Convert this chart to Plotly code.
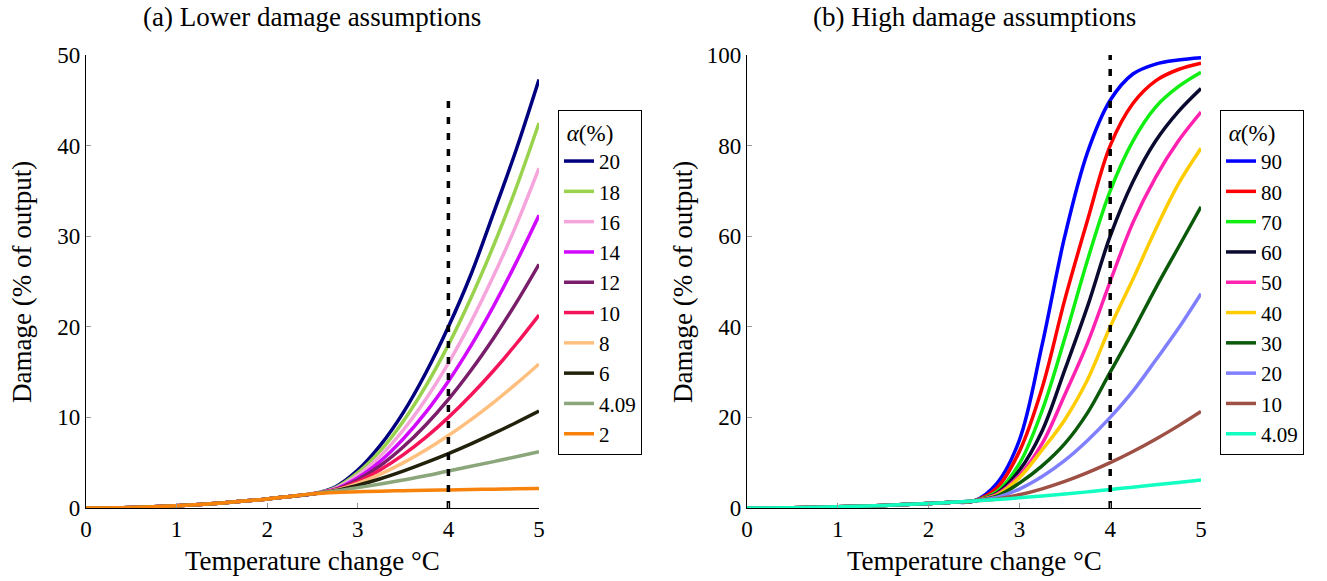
import plotly.graph_objects as go

W, H = 1327, 581

T = [0, 0.5, 1, 1.5, 2, 2.25, 2.5, 2.75, 3, 3.25, 3.5, 3.75, 4, 4.25, 4.5, 4.75, 5]
base = [0, 0.06, 0.25, 0.56, 1.0, 1.27, 1.56]

# (a) lower damage assumptions
a20 = base + [2.32, 4.18, 6.94, 10.5, 14.9, 20, 25.8, 32.6, 39.6, 47.3]
a18 = base + [2.23, 3.90, 6.33, 9.55, 13.45, 18, 23.2, 29.0, 35.4, 42.5]
a16 = base + [2.15, 3.61, 5.75, 8.58, 12.0, 16, 20.55, 25.65, 31.25, 37.5]
a14 = base + [2.07, 3.33, 5.17, 7.61, 10.55, 14, 17.92, 22.31, 27.14, 32.3]
a12 = base + [2.03, 3.12, 4.69, 6.73, 9.17, 12, 15.21, 18.77, 22.67, 26.9]
a10 = base + [1.99, 2.92, 4.23, 5.86, 7.79, 10, 12.47, 15.18, 18.13, 21.3]
a8 = base + [1.95, 2.72, 3.74, 4.98, 6.4, 8, 9.76, 11.67, 13.72, 15.9]
a6 = base + [1.91, 2.51, 3.23, 4.07, 5.0, 6, 7.08, 8.23, 9.44, 10.7]
a409 = base + [1.88, 2.25, 2.65, 3.09, 3.56, 4.09, 4.6, 5.12, 5.65, 6.2]
a2 = base + [1.72, 1.79, 1.86, 1.91, 1.96, 2.0, 2.04, 2.08, 2.12, 2.15]

# (b) high damage assumptions
b90 = base + [5.4, 15, 36, 60, 78.5, 90, 95.8, 98.0, 98.9, 99.4]
b80 = base + [4.4, 12.5, 26.5, 46, 63.5, 80, 89.3, 94.3, 96.8, 98.2]
b70 = base + [3.6, 9.8, 21.5, 37.5, 54.7, 70, 81, 88.5, 93, 96.2]
b60 = base + [3.2, 8.3, 17, 30.5, 44.5, 60, 72, 81, 87.5, 92.6]
b50 = base + [3.0, 7.2, 14.2, 25, 36.4, 50, 63, 73, 81, 87.4]
b40 = base + [2.8, 6.7, 12.8, 19.5, 28.3, 40, 50.5, 61.5, 71.5, 79.4]
b30 = base + [2.6, 5.5, 9.3, 14.2, 21, 30, 39, 48.5, 57.5, 66.5]
b20 = a20
b10 = a10
b409 = a409

left_labels = ["20", "18", "16", "14", "12", "10", "8", "6", "4.09", "2"]
left_series = [a20, a18, a16, a14, a12, a10, a8, a6, a409, a2]
left_colors = ["#00007f", "#99d24c", "#f5a5dc", "#d20aff", "#7a1e6c", "#f5145a",
               "#ffc07f", "#22220c", "#8aa67a", "#f7820c"]

right_labels = ["90", "80", "70", "60", "50", "40", "30", "20", "10", "4.09"]
right_series = [b90, b80, b70, b60, b50, b40, b30, b20, b10, b409]
right_colors = ["#0000ff", "#ff0000", "#11ee11", "#0a0a30", "#ff22b0", "#ffcc00",
                "#0a5a0a", "#8080ff", "#9e5045", "#11ffc0"]

vline_x = [4, 4]
vline_left = [0, 45]
vline_right = [0, 100]

FONT = "Liberation Serif, DejaVu Serif, serif"
TXT = 27
TICK = 23
LEG = 21

fig = go.Figure()

for lab, ys, col in zip(left_labels, left_series, left_colors):
    fig.add_trace(go.Scatter(x=T, y=ys, mode="lines", name=lab,
                             line=dict(color=col, width=3.5, shape="spline", smoothing=1.0),
                             xaxis="x", yaxis="y", legend="legend"))
fig.add_trace(go.Scatter(x=vline_x, y=vline_left, mode="lines", showlegend=False,
                         line=dict(color="black", width=3.5, dash="7px,9px"),
                         xaxis="x", yaxis="y"))

for lab, ys, col in zip(right_labels, right_series, right_colors):
    fig.add_trace(go.Scatter(x=T, y=ys, mode="lines", name=lab,
                             line=dict(color=col, width=3.5, shape="spline", smoothing=1.0),
                             xaxis="x2", yaxis="y2", legend="legend2"))
fig.add_trace(go.Scatter(x=vline_x, y=vline_right, mode="lines", showlegend=False,
                         line=dict(color="black", width=3.5, dash="7px,9px"),
                         xaxis="x2", yaxis="y2"))

def px(x):
    return x / W

def py(y):
    return (H - y) / H

axis_common = dict(showline=True, linecolor="black", linewidth=1.3, mirror=False,
                   ticks="inside", ticklen=5, tickcolor="#999999", tickwidth=1,
                   showgrid=False, zeroline=False, automargin=False,
                   tickfont=dict(family=FONT, size=TICK, color="black"))

legend_common = dict(xanchor="left", yanchor="top",
                     bordercolor="black", borderwidth=1, bgcolor="white",
                     title=dict(text=" <i>α</i>(%)", font=dict(family=FONT, size=LEG + 2)),
                     font=dict(family=FONT, size=LEG), itemwidth=30)

def label(text, x, y, angle=0):
    return dict(text=text, x=px(x), y=py(y), xref="paper", yref="paper",
                showarrow=False, textangle=angle, font=dict(family=FONT, size=TXT),
                xanchor="center", yanchor="middle")

fig.update_layout(
    width=W, height=H,
    margin=dict(l=0, r=0, t=0, b=0, pad=0, autoexpand=False),
    paper_bgcolor="white", plot_bgcolor="white",
    font=dict(family=FONT, size=20, color="black"),
    xaxis=dict(domain=[px(86), px(539)], range=[0, 5], tickvals=[0, 1, 2, 3, 4, 5],
               anchor="y", **axis_common),
    yaxis=dict(domain=[py(508), py(55)], range=[0, 50], tickvals=[0, 10, 20, 30, 40, 50],
               anchor="x", **axis_common),
    xaxis2=dict(domain=[px(747), px(1201)], range=[0, 5], tickvals=[0, 1, 2, 3, 4, 5],
                anchor="y2", **axis_common),
    yaxis2=dict(domain=[py(508), py(55)], range=[0, 100], tickvals=[0, 20, 40, 60, 80, 100],
                anchor="x2", **axis_common),
    legend=dict(x=px(558), y=py(110), **legend_common),
    legend2=dict(x=px(1220), y=py(110), **legend_common),
    annotations=[
        label("(a) Lower damage assumptions", 312, 17),
        label("(b) High damage assumptions", 974, 17),
        label("Temperature change °C", 312, 561),
        label("Temperature change °C", 974, 561),
        label("Damage (% of output)", 22, 282, -90),
        label("Damage (% of output)", 683, 282, -90),
    ],
)

fig.write_html("out.html")
